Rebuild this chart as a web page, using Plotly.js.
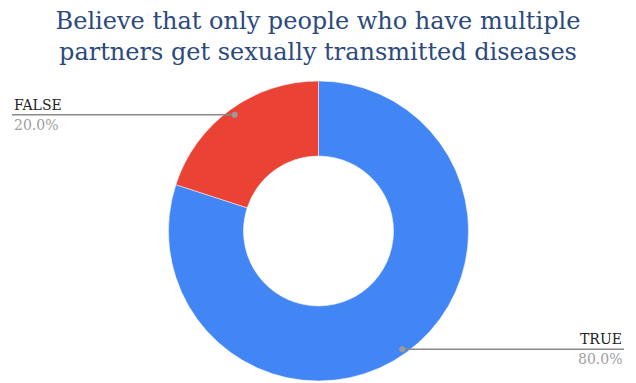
<!DOCTYPE html>
<html>
<head>
<meta charset="utf-8">
<script src="https://cdn.plot.ly/plotly-3.0.1.min.js"></script>
<style>html,body{margin:0;padding:0;background:#fff;}#chart{width:636px;height:383px;}</style>
</head>
<body>
<div id="chart"></div>
<script>
const labels = ['TRUE', 'FALSE'];
const values = [80, 20];
const colors = ['#4285F4', '#EA4335'];
const titleText = 'Believe that only people who have multiple<br>partners get sexually transmitted diseases';

const W = 636, H = 383;
const cx = 318.5, cy = 231, R = 150;
const total = values.reduce((a, b) => a + b, 0);

const shapes = [];
const annotations = [];
let cum = 0;
values.forEach((v, i) => {
  const theta = 2 * Math.PI * (cum + v / 2) / total;
  cum += v;
  const dx = cx + 0.95 * R * Math.sin(theta);
  const dy = cy - 0.95 * R * Math.cos(theta) + (Math.cos(theta) < 0 ? 3 : -1);
  const left = dx < cx;
  const xEnd = left ? 12 : 624;
  const px = x => x / W, py = y => 1 - y / H;
  shapes.push({type: 'line', xref: 'paper', yref: 'paper', x0: px(dx), x1: px(xEnd), y0: py(dy), y1: py(dy),
    line: {color: '#8a8a8a', width: 1.5}});
  shapes.push({type: 'circle', xref: 'paper', yref: 'paper', x0: px(dx - 3), x1: px(dx + 3), y0: py(dy + 3), y1: py(dy - 3),
    fillcolor: '#9a9a9a', line: {width: 0}});
  annotations.push({xref: 'paper', yref: 'paper', x: px(xEnd), y: py(dy), xanchor: left ? 'left' : 'right', yanchor: 'bottom',
    yshift: 0, showarrow: false, text: labels[i], font: {family: 'DejaVu Serif', size: 14, color: '#222'}});
  annotations.push({xref: 'paper', yref: 'paper', x: px(xEnd), y: py(dy), xanchor: left ? 'left' : 'right', yanchor: 'top',
    yshift: 0, showarrow: false, text: (v / total * 100).toFixed(1) + '%', font: {family: 'DejaVu Serif', size: 14, color: '#9e9e9e'}});
});

const data = [{
  type: 'pie',
  labels: labels,
  values: values,
  hole: 0.5,
  sort: false,
  direction: 'clockwise',
  rotation: 0,
  textinfo: 'none',
  hoverinfo: 'label+percent',
  marker: {colors: colors, line: {color: '#ffffff', width: 0.5}},
  domain: {x: [(cx - R) / W, (cx + R) / W], y: [(H - cy - R) / H, (H - cy + R) / H]}
}];

const layout = {
  width: W, height: H,
  margin: {l: 0, r: 0, t: 0, b: 0},
  paper_bgcolor: '#ffffff',
  showlegend: false,
  title: {text: titleText, x: 0.5, xanchor: 'center', y: 1 - 29 / H, yanchor: 'top', yref: 'container',
    font: {family: 'DejaVu Serif', size: 24, color: '#2c4a7c'}},
  shapes: shapes,
  annotations: annotations
};

Plotly.newPlot('chart', data, layout, {displayModeBar: false, staticPlot: true});
</script>
</body>
</html>
